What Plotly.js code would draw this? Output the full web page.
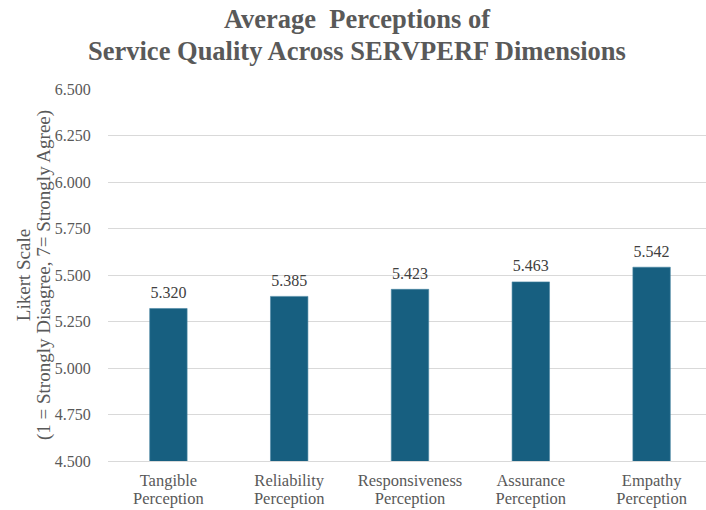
<!DOCTYPE html>
<html>
<head>
<meta charset="utf-8">
<script src="https://cdn.plot.ly/plotly-3.0.1.min.js"></script>
<style>
  html, body { margin: 0; padding: 0; overflow: hidden; background: #fff; }
  #chart { width: 714px; height: 510px; }
</style>
</head>
<body>
<div id="chart"></div>
<script>
const categories = [
  "Tangible Perception",
  "Reliability Perception",
  "Responsiveness Perception",
  "Assurance Perception",
  "Empathy Perception"
];
const meanScores = [5.320, 5.385, 5.423, 5.463, 5.542];
const yTickValues = [4.5, 4.75, 5.0, 5.25, 5.5, 5.75, 6.0, 6.25, 6.5];
const titleLines = ["Average  Perceptions of", "Service Quality Across SERVPERF Dimensions"];
const yTitleLines = ["Likert Scale", "(1 = Strongly Disagree, 7= Strongly Agree)"];

const serif = "'Liberation Serif', 'Times New Roman', serif";
const grey = "#595959";

// tight line spacing: small base font for line pitch, larger span for glyphs
const wrapLines = (lines, px) => lines.map(l => `<span style="font-size:${px}px">${l}</span>`).join("<br>");
const tickText = categories.map(c => wrapLines(c.split(" "), 16.5));

const trace = {
  type: "bar",
  x: categories,
  y: meanScores,
  marker: { color: "#175f80", line: { color: "#4a86a3", width: 0.6 } },
  texttemplate: "<span style='font-size:16px'>%{y:.3f}</span><br><span style='font-size:6px'>&nbsp;</span>",
  textposition: "outside",
  cliponaxis: false,
  textfont: { family: serif, size: 5, color: "#404040" },
  hoverinfo: "skip"
};

const layout = {
  width: 714,
  height: 510,
  margin: { l: 108, r: 2, t: 89, b: 49 },
  paper_bgcolor: "#ffffff",
  plot_bgcolor: "#ffffff",
  bargap: 0.69,
  showlegend: false,
  uniformtext: { mode: false },
  annotations: [{
    text: "<b>" + wrapLines(titleLines, 26.5) + "</b>",
    font: { family: serif, size: 24.5, color: grey },
    xref: "paper", x: (357 - 108) / 604, xanchor: "center",
    yref: "paper", y: 1, yanchor: "bottom", yshift: 21,
    showarrow: false
  }],
  xaxis: {
    type: "category",
    tickvals: categories,
    ticktext: tickText,
    showgrid: false,
    showline: true,
    linecolor: "#d9d9d9",
    linewidth: 1,
    ticks: "outside",
    ticklen: 8,
    tickcolor: "rgba(0,0,0,0)",
    tickfont: { family: serif, size: 13.5, color: grey },
    fixedrange: true
  },
  yaxis: {
    range: [4.5, 6.5],
    tickvals: yTickValues,
    tickformat: ".3f",
    showgrid: true,
    gridcolor: "#d9d9d9",
    gridwidth: 1,
    zeroline: false,
    showline: false,
    ticks: "outside",
    ticklen: 13,
    tickcolor: "rgba(0,0,0,0)",
    tickfont: { family: serif, size: 16, color: grey },
    title: {
      text: wrapLines(yTitleLines, 19),
      font: { family: serif, size: 15.5, color: grey },
      standoff: 0
    },
    automargin: false,
    fixedrange: true
  }
};

Plotly.newPlot("chart", [trace], layout, { displayModeBar: false, staticPlot: true });
</script>
</body>
</html>
